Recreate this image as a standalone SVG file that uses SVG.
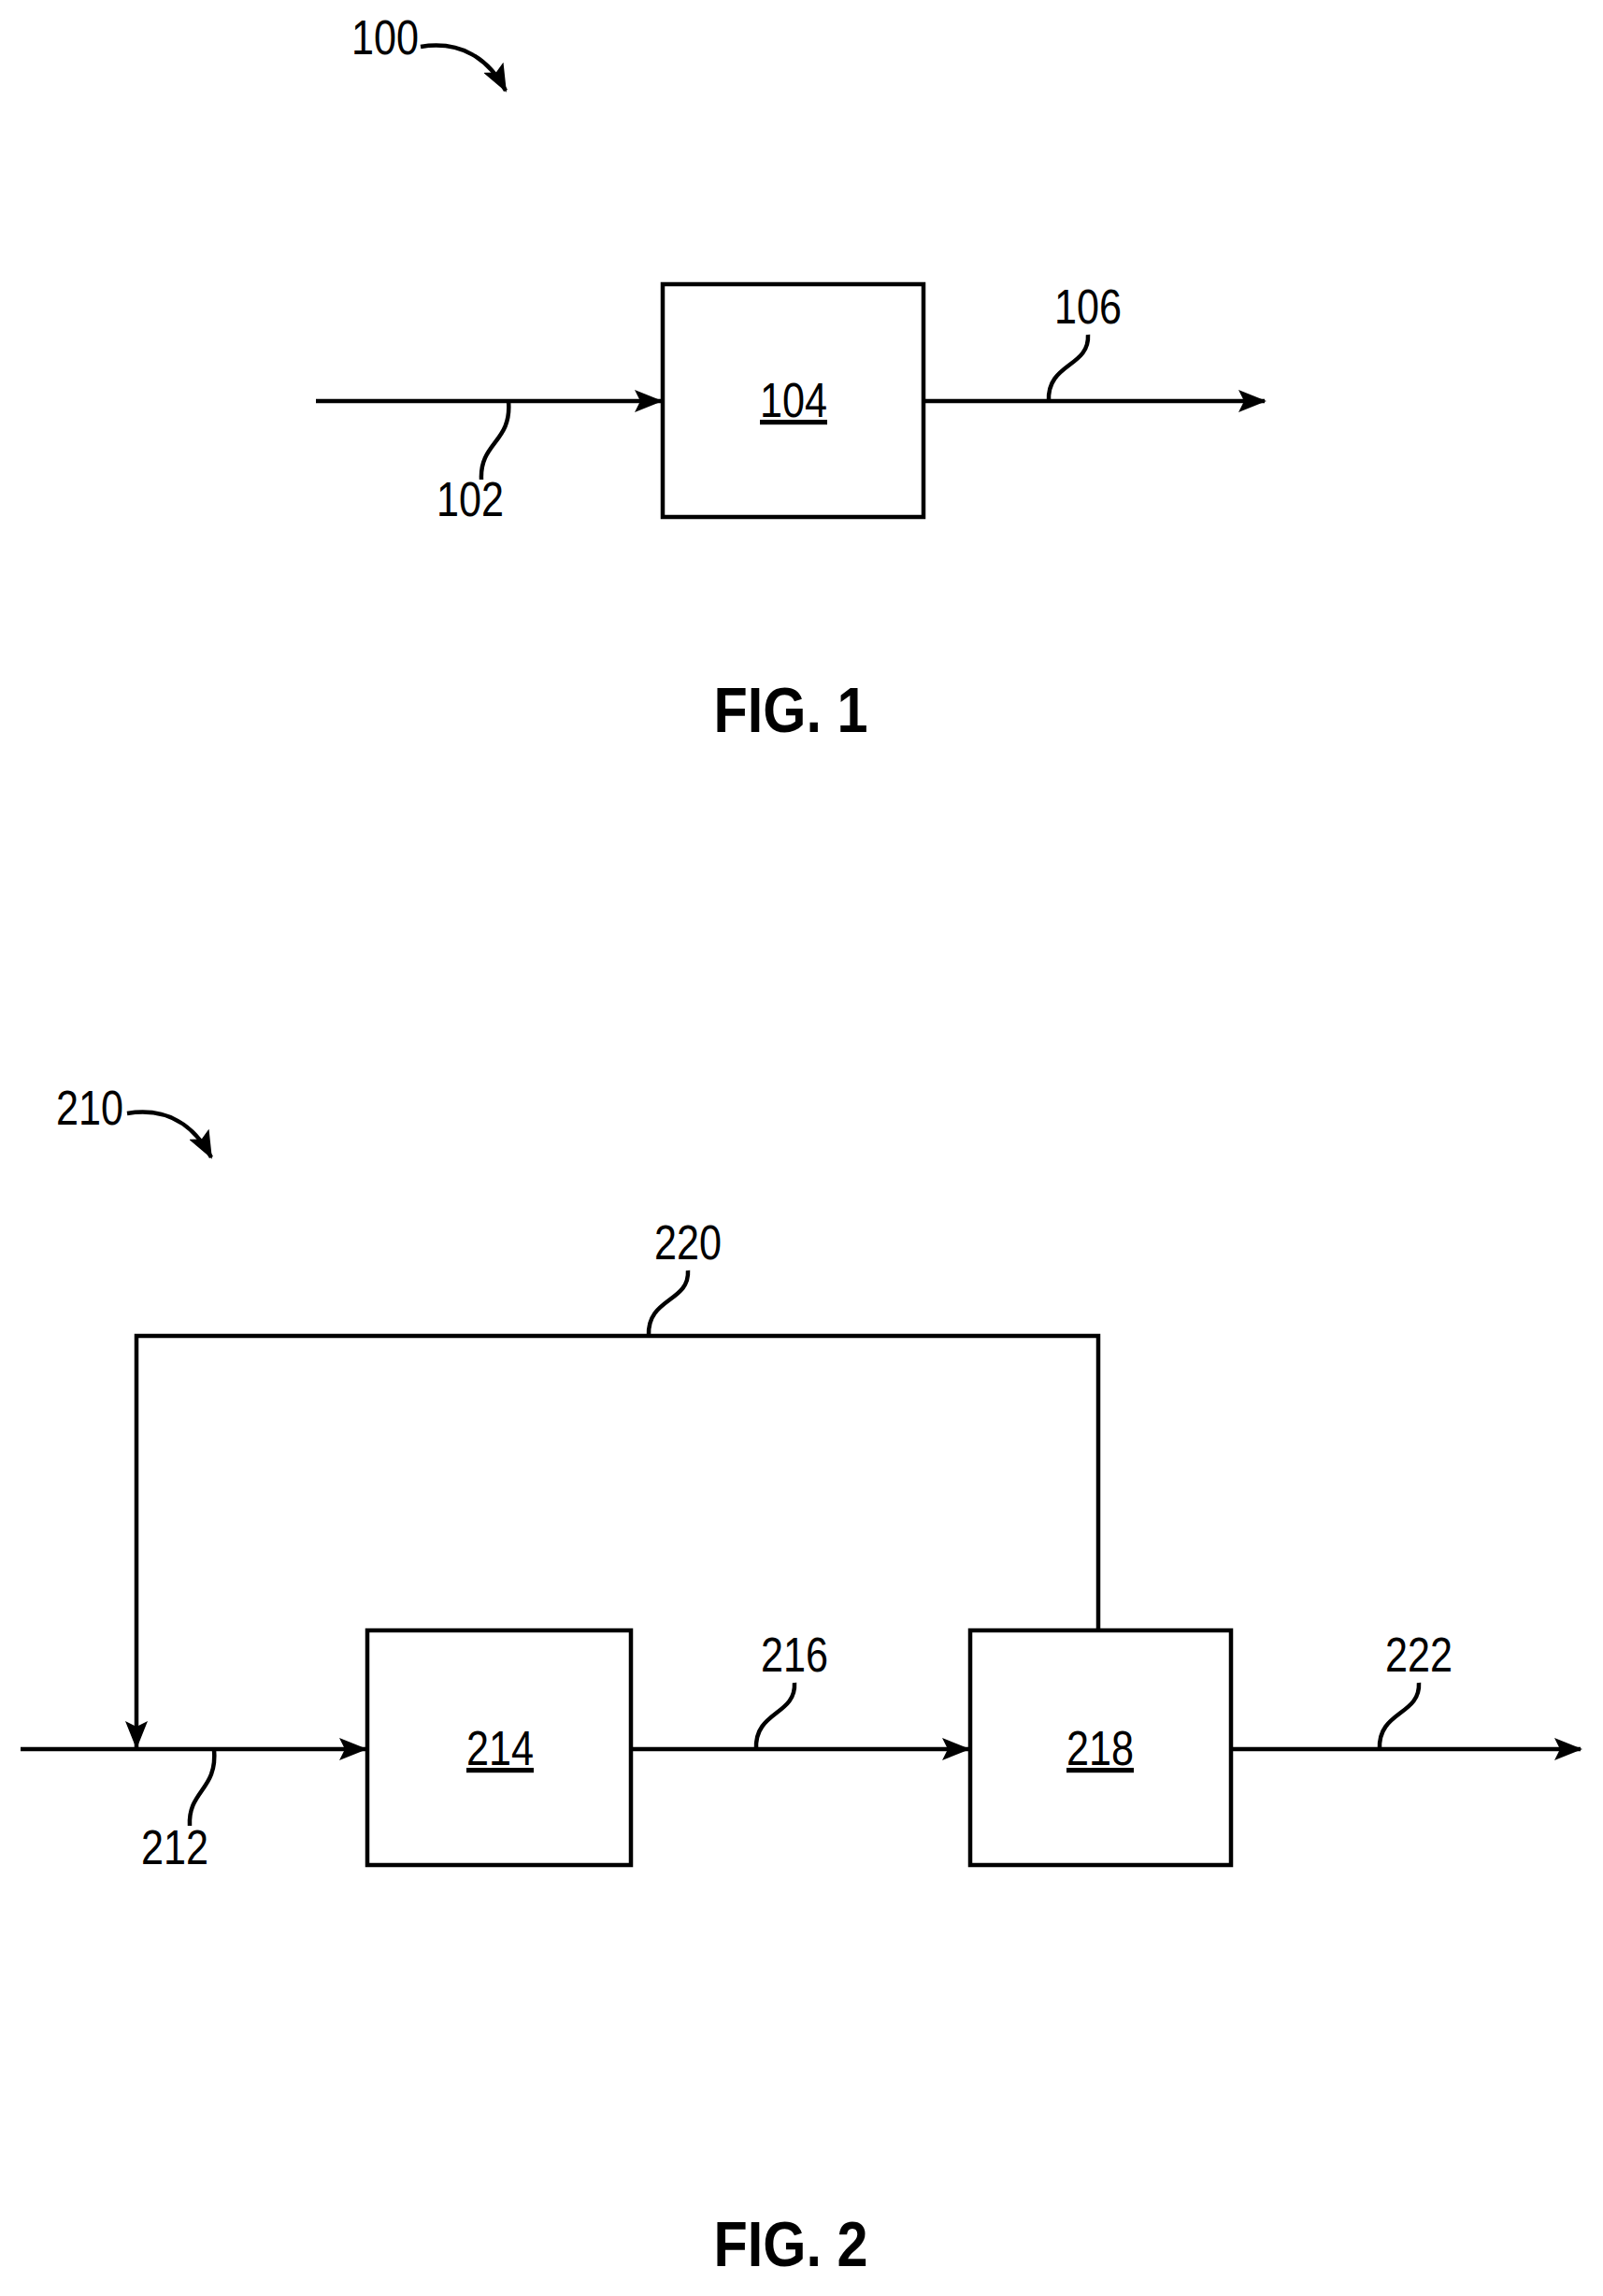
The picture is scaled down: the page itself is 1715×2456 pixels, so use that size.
<svg xmlns="http://www.w3.org/2000/svg" width="1715" height="2456" viewBox="0 0 1715 2456">
<style>
.l{fill:none;stroke:#000;stroke-width:4.5}
.b{fill:#fff;stroke:#000;stroke-width:4.5}
.t{font-family:"Liberation Sans",Arial,sans-serif;font-size:52px;fill:#000;text-anchor:middle}
.f{font-family:"Liberation Sans",Arial,sans-serif;font-size:68px;font-weight:bold;fill:#000;text-anchor:middle}
</style>
<defs>
<marker id="A" markerWidth="30" markerHeight="24" refX="28" refY="12" orient="auto" markerUnits="userSpaceOnUse">
<path d="M0,0 L30,12 L0,24 L6,12 Z" fill="#000"/>
</marker>
</defs>
<rect width="1715" height="2456" fill="#fff"/>
<g id="connectors" transform="translate(3,3)">
<path class="l" d="M335,426 H704" marker-end="url(#A)"/>
<path class="l" d="M985,426 H1350" marker-end="url(#A)"/>
<path class="l" d="M447,47 C490,40 520,60 538,94" marker-end="url(#A)"/>
<path class="l" d="M19,1868 H388" marker-end="url(#A)"/>
<path class="l" d="M672,1868 H1033" marker-end="url(#A)"/>
<path class="l" d="M1314,1868 H1688" marker-end="url(#A)"/>
<path class="l" d="M1172,1741 V1426 H143 V1866" marker-end="url(#A)"/>
<path class="l" d="M133,1188 C176,1181 205,1201 223,1235" marker-end="url(#A)"/>
<g class="leaders">
<path class="l" d="M541,426 C545,470 510,470 512,510"/>
<path class="l" d="M1119,426 C1117,385 1163,390 1161,355"/>
<path class="l" d="M226,1868 C230,1912 198,1912 200,1950"/>
<path class="l" d="M806,1868 C804,1827 849,1832 847,1797"/>
<path class="l" d="M691,1426 C689,1385 735,1390 733,1356"/>
<path class="l" d="M1473,1868 C1471,1827 1517,1832 1515,1797"/>
</g>
</g>
<g transform="translate(3,3)">
<g id="n104"><rect class="b" x="706" y="301" width="279" height="249"/><text class="t" x="846" y="443" textLength="72" lengthAdjust="spacingAndGlyphs" text-decoration="underline">104</text></g>
<g id="n214"><rect class="b" x="390" y="1741" width="282" height="251"/><text class="t" x="532" y="1885" textLength="72" lengthAdjust="spacingAndGlyphs" text-decoration="underline">214</text></g>
<g id="n218"><rect class="b" x="1035" y="1741" width="279" height="251"/><text class="t" x="1174" y="1885" textLength="72" lengthAdjust="spacingAndGlyphs" text-decoration="underline">218</text></g>
<g id="labels">
<text class="t" x="409" y="55" textLength="72" lengthAdjust="spacingAndGlyphs">100</text>
<text class="t" x="500" y="549" textLength="72" lengthAdjust="spacingAndGlyphs">102</text>
<text class="t" x="1161" y="343" textLength="72" lengthAdjust="spacingAndGlyphs">106</text>
<text class="t" x="93" y="1200" textLength="72" lengthAdjust="spacingAndGlyphs">210</text>
<text class="t" x="184" y="1991" textLength="72" lengthAdjust="spacingAndGlyphs">212</text>
<text class="t" x="847" y="1785" textLength="72" lengthAdjust="spacingAndGlyphs">216</text>
<text class="t" x="733" y="1344" textLength="72" lengthAdjust="spacingAndGlyphs">220</text>
<text class="t" x="1515" y="1785" textLength="72" lengthAdjust="spacingAndGlyphs">222</text>
<text class="f" x="843" y="780" textLength="165" lengthAdjust="spacingAndGlyphs">FIG. 1</text>
<text class="f" x="843" y="2421" textLength="165" lengthAdjust="spacingAndGlyphs">FIG. 2</text>
</g>
</g>
</svg>
